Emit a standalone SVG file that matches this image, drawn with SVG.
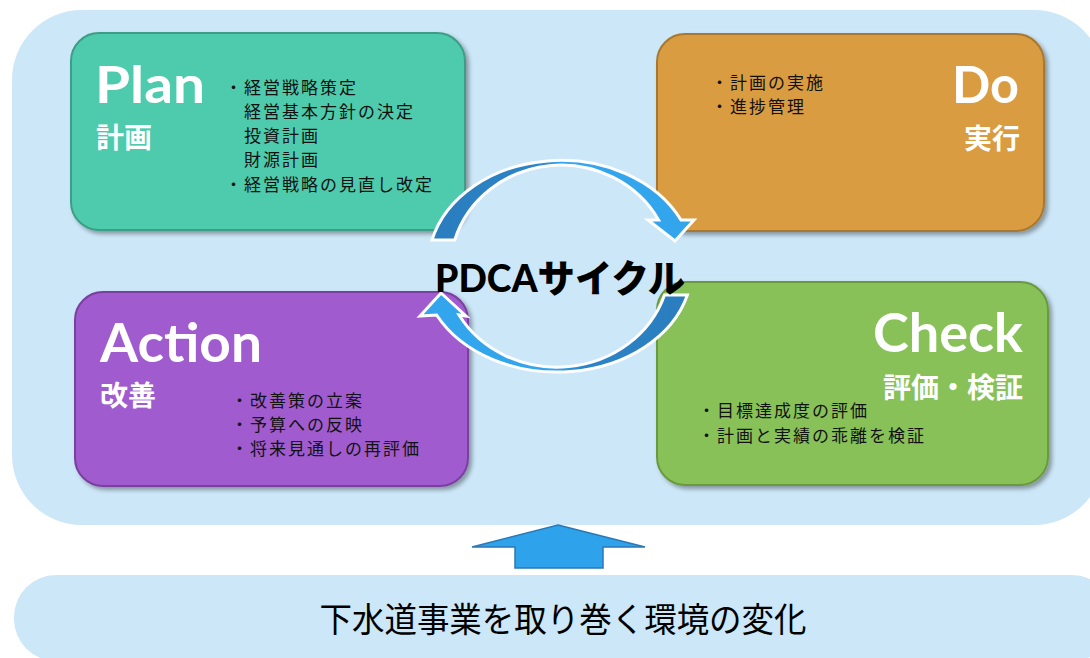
<svg xmlns="http://www.w3.org/2000/svg" width="1090" height="658" viewBox="0 0 1090 658">
<defs>
<style>
.panel{fill:#CCE7F8;}
.box{stroke-width:2;filter:url(#sh);}
.en{font-family:Lato,"Open Sans","Liberation Sans",sans-serif;font-weight:700;fill:#fff;}
.jp{font-family:"Noto Sans CJK JP","Noto Sans",sans-serif;font-weight:700;fill:#fff;font-size:28px;}
.b{font-family:"Noto Sans CJK JP","Noto Sans",sans-serif;font-size:17px;letter-spacing:2px;fill:#111;}
.arr{stroke:#fff;stroke-width:3;stroke-linejoin:miter;}
</style>
<filter id="sh" x="-10%" y="-10%" width="125%" height="130%">
<feDropShadow dx="3" dy="3" stdDeviation="2" flood-color="#000" flood-opacity="0.35"/>
</filter>
<linearGradient id="gTop" gradientUnits="userSpaceOnUse" x1="430" y1="0" x2="695" y2="0">
<stop offset="0" stop-color="#2A7DBE"/>
<stop offset="0.4" stop-color="#2C84C6"/>
<stop offset="0.5" stop-color="#33A5EC"/>
<stop offset="1" stop-color="#33A5EC"/>
</linearGradient>
<linearGradient id="gBot" gradientUnits="userSpaceOnUse" x1="690" y1="0" x2="420" y2="0">
<stop offset="0" stop-color="#2A7DBE"/>
<stop offset="0.4" stop-color="#2C84C6"/>
<stop offset="0.5" stop-color="#33A5EC"/>
<stop offset="1" stop-color="#33A5EC"/>
</linearGradient>
</defs>

<g id="background">
<rect class="panel" x="12" y="10" width="1092" height="515" rx="70" ry="70"/>
</g>

<g id="plan">
<rect class="box" x="71" y="33" width="394" height="197" rx="28" fill="#4DCBAC" stroke="#3E9E85"/>
<text class="en" x="95" y="103" font-size="52" textLength="110" lengthAdjust="spacingAndGlyphs">Plan</text>
<text class="jp" x="96" y="148">計画</text>
<text class="b" x="225" y="94">・経営戦略策定</text>
<text class="b" x="244" y="118">経営基本方針の決定</text>
<text class="b" x="244" y="142">投資計画</text>
<text class="b" x="244" y="166">財源計画</text>
<text class="b" x="225" y="191">・経営戦略の見直し改定</text>
</g>

<g id="do">
<rect class="box" x="657" y="34" width="387" height="197" rx="28" fill="#D99C3F" stroke="#A87830"/>
<text class="en" x="1019" y="103" font-size="52" text-anchor="end" textLength="67" lengthAdjust="spacingAndGlyphs">Do</text>
<text class="jp" x="1020" y="149" text-anchor="end">実行</text>
<text class="b" x="711" y="89">・計画の実施</text>
<text class="b" x="711" y="113">・進捗管理</text>
</g>

<g id="action">
<rect class="box" x="75" y="292" width="393" height="194" rx="28" fill="#A05CCF" stroke="#7A3FA0"/>
<text class="en" x="100" y="362" font-size="54" textLength="162" lengthAdjust="spacingAndGlyphs">Action</text>
<text class="jp" x="100" y="406">改善</text>
<text class="b" x="231" y="407">・改善策の立案</text>
<text class="b" x="231" y="431">・予算への反映</text>
<text class="b" x="231" y="455">・将来見通しの再評価</text>
</g>

<g id="check">
<rect class="box" x="657" y="282" width="391" height="203" rx="28" fill="#88C158" stroke="#6A9A40"/>
<text class="en" x="1023" y="352" font-size="54" text-anchor="end" textLength="150" lengthAdjust="spacingAndGlyphs">Check</text>
<text class="jp" x="1023" y="398" text-anchor="end">評価・検証</text>
<text class="b" x="698" y="417">・目標達成度の評価</text>
<text class="b" x="698" y="442">・計画と実績の乖離を検証</text>
</g>

<g id="connectors">
<path class="arr" fill="url(#gTop)" d="M 432 240 A 133 105 0 0 1 681 220 L 694 220 L 675 241 L 648 220 L 658.6 220 A 111 105 0 0 0 454.7 240 Z"/>
<path class="arr" fill="url(#gBot)" d="M 687.4 295 A 135 104 0 0 1 436.6 315 L 420 316 L 441 293 L 466 316 L 459 315 A 113 104 0 0 0 664.5 295 Z"/>
<path fill="#2EA2EB" stroke="#2A78B5" stroke-width="1.5" d="M 558 525 L 645 547 L 603 547 L 603 568 L 515 568 L 515 547 L 472 547 Z"/>
</g>

<g id="cycle-label">
<text x="560" y="292" text-anchor="middle" font-family="Lato,&quot;Noto Sans CJK JP&quot;,sans-serif" font-weight="900" font-size="38" fill="#000" textLength="250" lengthAdjust="spacingAndGlyphs">PDCAサイクル</text>
</g>

<g id="environment">
<rect class="panel" x="14" y="575" width="1100" height="86" rx="42" ry="42"/>
<text x="563" y="632" text-anchor="middle" font-family="&quot;Noto Sans CJK JP&quot;,sans-serif" font-size="34" fill="#000" textLength="487" lengthAdjust="spacingAndGlyphs">下水道事業を取り巻く環境の変化</text>
</g>
</svg>
